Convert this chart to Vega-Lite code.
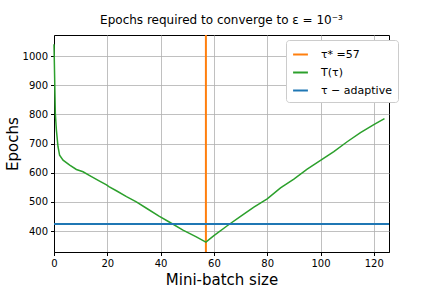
{
  "$schema": "https://vega.github.io/schema/vega-lite/v6.json",
  "width": 335,
  "height": 217,
  "autosize": "none",
  "padding": {"left": 54, "top": 35, "right": 43, "bottom": 36},
  "title": {"text": "Epochs required to converge to ε = 10⁻³", "fontSize": 12, "fontWeight": "normal", "font": "DejaVu Sans", "color": "black", "offset": 7, "anchor": "middle"},
  "config": {
    "view": {"stroke": "black", "strokeWidth": 1},
    "font": "DejaVu Sans",
    "axis": {"domainColor": "black", "tickColor": "black", "tickSize": 3.5, "labelFont": "DejaVu Sans", "labelFontSize": 10, "labelColor": "black", "gridColor": "#b0b0b0", "gridWidth": 0.8, "titleFont": "DejaVu Sans", "titleFontSize": 15, "titleFontWeight": "normal", "titleColor": "black", "labelPadding": 3}
  },
  "data": {"values": [
    {"series": "τ* =57", "x": 57},
    {"series": "T(τ)", "x": 0, "y": 1040},
    {"series": "T(τ)", "x": 0.5, "y": 803},
    {"series": "T(τ)", "x": 0.9, "y": 746},
    {"series": "T(τ)", "x": 1.5, "y": 689},
    {"series": "T(τ)", "x": 2.1, "y": 660},
    {"series": "T(τ)", "x": 3.4, "y": 643},
    {"series": "T(τ)", "x": 5.9, "y": 626},
    {"series": "T(τ)", "x": 8.4, "y": 611},
    {"series": "T(τ)", "x": 10.9, "y": 603},
    {"series": "T(τ)", "x": 13.4, "y": 590},
    {"series": "T(τ)", "x": 17.1, "y": 571},
    {"series": "T(τ)", "x": 19.7, "y": 558},
    {"series": "T(τ)", "x": 20.6, "y": 552},
    {"series": "T(τ)", "x": 23.4, "y": 538},
    {"series": "T(τ)", "x": 27.2, "y": 518},
    {"series": "T(τ)", "x": 30.9, "y": 500},
    {"series": "T(τ)", "x": 34.7, "y": 478},
    {"series": "T(τ)", "x": 39.4, "y": 451},
    {"series": "T(τ)", "x": 43.4, "y": 430},
    {"series": "T(τ)", "x": 48.4, "y": 403},
    {"series": "T(τ)", "x": 53.4, "y": 380},
    {"series": "T(τ)", "x": 57, "y": 362},
    {"series": "T(τ)", "x": 60, "y": 384},
    {"series": "T(τ)", "x": 65, "y": 418},
    {"series": "T(τ)", "x": 70, "y": 450},
    {"series": "T(τ)", "x": 75, "y": 482},
    {"series": "T(τ)", "x": 80, "y": 510},
    {"series": "T(τ)", "x": 85, "y": 548},
    {"series": "T(τ)", "x": 90, "y": 578},
    {"series": "T(τ)", "x": 95, "y": 612},
    {"series": "T(τ)", "x": 100, "y": 642},
    {"series": "T(τ)", "x": 105, "y": 672},
    {"series": "T(τ)", "x": 110, "y": 706},
    {"series": "T(τ)", "x": 115, "y": 737},
    {"series": "T(τ)", "x": 120, "y": 765},
    {"series": "T(τ)", "x": 124, "y": 785},
    {"series": "τ − adaptive", "y": 424}
  ]},
  "encoding": {
    "color": {
      "field": "series", "type": "nominal",
      "scale": {"domain": ["τ* =57", "T(τ)", "τ − adaptive"], "range": ["#ff7f0e", "#2ca02c", "#1f77b4"]},
      "legend": {"title": null, "orient": "none", "legendX": 232, "legendY": 5, "symbolType": "stroke", "symbolSize": 220, "symbolStrokeWidth": 2, "labelFontSize": 11, "labelFont": "DejaVu Sans", "labelColor": "black", "fillColor": "white", "strokeColor": "#cccccc", "cornerRadius": 3, "padding": 6, "rowPadding": 4, "labelOffset": 12}
    }
  },
  "layer": [
    {
      "transform": [{"filter": "datum.series === 'τ* =57'"}],
      "mark": {"type": "rule", "strokeWidth": 2},
      "encoding": {
        "x": {"field": "x", "type": "quantitative", "scale": {"domain": [0, 125.7], "nice": false, "zero": false}, "axis": {"values": [0, 20, 40, 60, 80, 100, 120], "labelOverlap": false, "labelFlush": false, "format": "d", "title": "Mini-batch size", "titlePadding": 4}}
      }
    },
    {
      "transform": [{"filter": "datum.series === 'T(τ)'"}],
      "mark": {"type": "line", "strokeWidth": 1.5},
      "encoding": {
        "x": {"field": "x", "type": "quantitative", "scale": {"domain": [0, 125.7], "nice": false, "zero": false}, "axis": {"values": [0, 20, 40, 60, 80, 100, 120], "labelOverlap": false, "labelFlush": false, "format": "d", "title": "Mini-batch size", "titlePadding": 4}},
        "y": {"field": "y", "type": "quantitative", "scale": {"domain": [328, 1072], "nice": false, "zero": false}, "axis": {"values": [400, 500, 600, 700, 800, 900, 1000], "labelOverlap": false, "labelFlush": false, "format": "d", "title": "Epochs", "titleX": -42, "titleBaseline": "middle"}}
      }
    },
    {
      "transform": [{"filter": "datum.series === 'τ − adaptive'"}],
      "mark": {"type": "rule", "strokeWidth": 2},
      "encoding": {
        "y": {"field": "y", "type": "quantitative", "scale": {"domain": [328, 1072], "nice": false, "zero": false}, "axis": {"values": [400, 500, 600, 700, 800, 900, 1000], "labelOverlap": false, "labelFlush": false, "format": "d", "title": "Epochs", "titleX": -42, "titleBaseline": "middle"}}
      }
    }
  ]
}
